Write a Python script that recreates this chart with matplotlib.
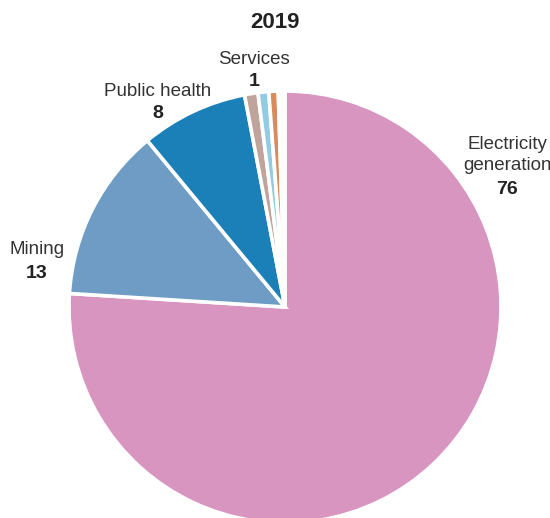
import matplotlib.pyplot as plt

# sector shares, 2019
sectors = ["Electricity\ngeneration", "Mining", "Public health", "Services", "Other A", "Other B", "Other C"]
shares = [76, 13, 8, 1, 0.8, 0.7, 0.5]
colors = ["#d895c0", "#6f9cc4", "#1b80b8", "#c0a39a", "#93cbe4", "#d98a5e", "#ffffff"]

# labelled sectors: (index, x, y) in figure pixels, value shown below name
labelled = [(0, 507, 155), (1, 37, 250), (2, 158, 91), (3, 254, 59)]

W, H = 550, 518
CX, CY, R = 285, 307, 216

fig = plt.figure(figsize=(W / 100, H / 100), dpi=100, facecolor="white")
ax = fig.add_axes([(CX - R) / W, (H - CY - R) / H, 2 * R / W, 2 * R / H])

ax.pie(shares, colors=colors, startangle=90, counterclock=False, radius=1,
       wedgeprops=dict(edgecolor="white", linewidth=2.6))
ax.set_xlim(-1, 1)
ax.set_ylim(-1, 1)
ax.set_aspect("equal")
ax.axis("off")

fam = ["Liberation Sans Narrow", "Liberation Sans", "DejaVu Sans"]


def to_fig(px, py):
    return px / W, 1 - py / H


for i, px, py in labelled:
    name = sectors[i]
    nlines = name.count("\n") + 1
    x, y = to_fig(px, py)
    fig.text(x, y, name, ha="center", va="center", fontsize=13.5, family=fam,
             color="#333333", linespacing=1.3)
    vy = py + 12 * (nlines - 1) + 23
    x, y = to_fig(px, vy)
    fig.text(x, y, f"{shares[i]:g}", ha="center", va="center", fontsize=14,
             family=fam, fontweight="bold", color="#222222")

x, y = to_fig(275, 23)
fig.text(x, y, "2019", ha="center", va="center", fontsize=16, family=fam,
         fontweight="bold", color="#222222")

fig.savefig("out.png", dpi=100, facecolor="white")
